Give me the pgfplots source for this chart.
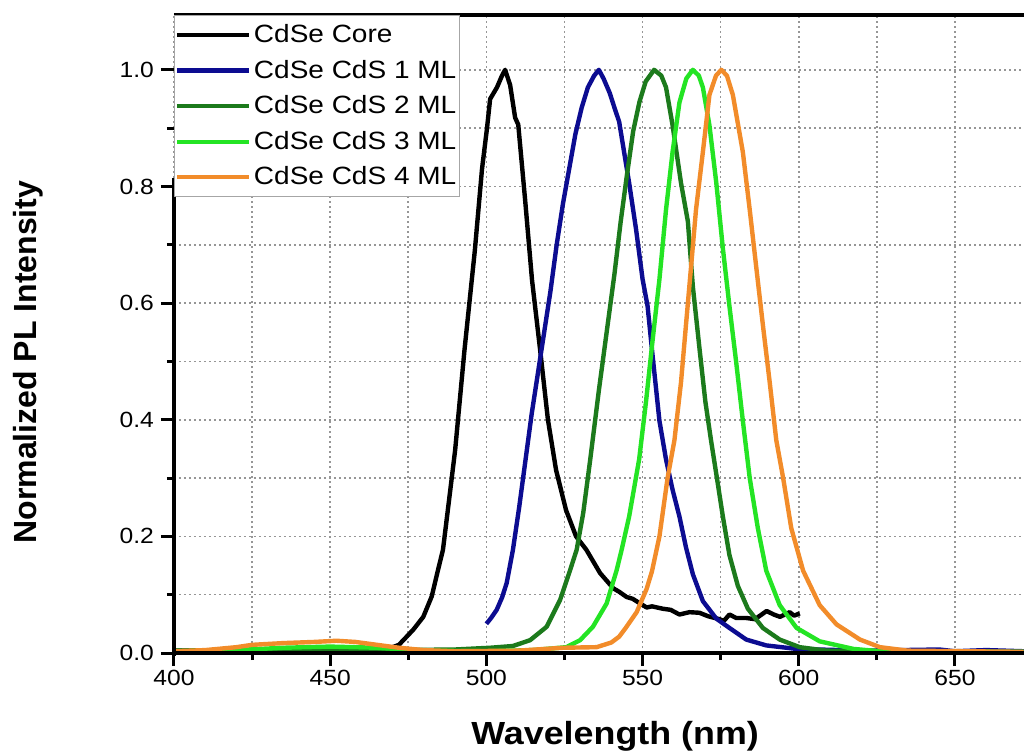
\documentclass[border=0pt]{standalone}
\usepackage{pgfplots}
\pgfplotsset{compat=1.18}
\usetikzlibrary{calc}
\usepackage{fontspec}
\setmainfont{Liberation Sans}[FakeStretch=1.12]
\newfontfamily\ylabfont{Liberation Sans}
\definecolor{cnavy}{RGB}{12,12,145}
\definecolor{cdgreen}{RGB}{28,122,28}
\definecolor{clgreen}{RGB}{36,228,36}
\definecolor{corange}{RGB}{242,140,42}
\definecolor{cgrid}{RGB}{150,150,150}
\begin{document}
\begin{tikzpicture}
\begin{axis}[
  scale only axis, width=425pt, height=319pt,
  xmin=400, xmax=672.1, ymin=0, ymax=1.094,
  clip=false,
  axis line style={draw=none},
  xtick={400,450,...,650}, ytick={0,0.2,0.4,0.6,0.8,1.0},
  minor xtick={425,475,...,675}, minor ytick={0.1,0.3,...,0.9},
  xtick pos=left, ytick pos=left,
  tick align=outside,
  major tick length=6.5pt, minor tick length=3.5pt,
  tick style={black, line width=1.5pt},
  xmajorgrids, xminorgrids, ymajorgrids, yminorgrids,
  major grid style={cgrid, line width=0.8pt, dash pattern=on 1pt off 1.5pt},
  minor grid style={cgrid, line width=0.8pt, dash pattern=on 1pt off 1.5pt},
  /pgf/number format/assume math mode=true,
  ticklabel style={font=\fontsize{11}{13}\selectfont},
  yticklabel style={/pgf/number format/fixed, /pgf/number format/fixed zerofill, /pgf/number format/precision=1},
  xticklabel style={/pgf/number format/1000 sep={}, yshift=1.5pt},
  xlabel={\bfseries Wavelength (nm)},
  ylabel={\ylabfont\bfseries Normalized PL Intensity},
  xlabel style={font=\fontsize{16}{18}\selectfont, at={(axis description cs:0.519,-0.13)}, anchor=center},
  ylabel style={font=\fontsize{16}{18}\selectfont, at={(axis description cs:-0.172,0.456)}, anchor=center, rotate=0},
  legend style={at={(0,1)}, anchor=north west, draw=gray!70, line width=0.6pt, fill=white,
    font=\fontsize{12.5}{14}\selectfont, inner xsep=0pt, inner ysep=2pt,
    nodes={inner xsep=1.5pt, inner ysep=2.5pt}, row sep=2.2pt,
    /tikz/every even column/.append style={column sep=3.5pt}},
  legend cell align=left,
  legend image code/.code={\draw[#1, line width=2.2pt] (0pt,0pt) -- (36pt,0pt);},
  every axis plot/.append style={line width=2.2pt, line join=round},
]
\addplot[black] coordinates {
(400,0.004) (420,0.004) (440,0.003) (460,0.003) (468,0.006) (472,0.014) (476.6,0.04) (479.8,0.062) (482.5,0.097) (484.5,0.142) (486.1,0.177) (488,0.26) (490,0.348) (493,0.52) (496.3,0.69) (498.6,0.83) (500.2,0.90) (501.2,0.95) (503.4,0.97) (505,0.99) (506,1.0) (507.6,0.974) (509.2,0.918) (510.2,0.906) (512.4,0.777) (514.6,0.64) (517.2,0.52) (519.7,0.40) (522.3,0.314) (525.5,0.245) (528.7,0.20) (532,0.177) (536.4,0.137) (540.6,0.111) (542.5,0.105) (544.9,0.096) (546.8,0.093) (549.2,0.085) (551.3,0.078) (553,0.080) (556.4,0.076) (559,0.074) (561.8,0.066) (565,0.070) (568.2,0.069) (571,0.063) (574.6,0.058) (576,0.055) (577.8,0.066) (580,0.060) (583.2,0.060) (586,0.058) (589.7,0.072) (592,0.066) (594,0.062) (597.1,0.070) (598.5,0.064) (600.3,0.068)
};
\addlegendentry{CdSe Core}
\addplot[cnavy] coordinates {
(500,0.05) (501.5,0.06) (503.3,0.074) (505,0.095) (506.5,0.12) (508.5,0.177) (510.5,0.25) (512.5,0.33) (514.5,0.41) (516.5,0.48) (518.5,0.55) (520.5,0.62) (522.5,0.70) (524.5,0.77) (526.5,0.83) (528.5,0.89) (530.5,0.935) (532.5,0.97) (534.5,0.99) (536,1.0) (537.5,0.985) (539.5,0.96) (541,0.935) (542.5,0.911) (545.7,0.806) (547.9,0.727) (550,0.641) (551.6,0.595) (553.2,0.51) (555.4,0.398) (557.5,0.332) (559.6,0.28) (561.8,0.234) (563.9,0.181) (566.1,0.135) (569.3,0.089) (573.6,0.059) (577.8,0.043) (583.2,0.023) (589.6,0.013) (599.3,0.007) (620,0.004) (645,0.006) (650,0.003) (660,0.005) (672,0.003)
};
\addlegendentry{CdSe CdS 1 ML}
\addplot[cdgreen] coordinates {
(400,0.004) (430,0.006) (450,0.007) (470,0.005) (490,0.006) (501.2,0.009) (508.5,0.012) (514,0.022) (519.3,0.045) (523.6,0.091) (526.8,0.142) (528.9,0.177) (531,0.24) (533.2,0.33) (536,0.45) (539,0.57) (541,0.65) (543,0.74) (545,0.82) (547,0.895) (549,0.945) (551,0.98) (553.7,1.0) (556,0.99) (557.5,0.97) (559.6,0.905) (562.3,0.806) (564.5,0.74) (566.1,0.628) (568.2,0.523) (570.1,0.431) (571.9,0.365) (573.8,0.30) (575.7,0.234) (577.8,0.168) (580.5,0.115) (583.7,0.076) (588.5,0.043) (593.9,0.023) (600.3,0.01) (608.9,0.004) (630,0.003) (672,0.002)
};
\addlegendentry{CdSe CdS 2 ML}
\addplot[clgreen] coordinates {
(400,0.003) (420,0.005) (435,0.009) (450,0.011) (465,0.009) (480,0.004) (500,0.003) (515,0.005) (525.6,0.01) (530,0.022) (534.1,0.045) (538.5,0.085) (541.7,0.142) (543.3,0.177) (545.7,0.234) (548.9,0.332) (551.1,0.431) (553.2,0.536) (555.4,0.641) (557.5,0.76) (559.6,0.859) (561.8,0.944) (564,0.985) (566.1,1.0) (568,0.99) (569.3,0.97) (571.4,0.905) (573.6,0.806) (575.7,0.694) (577.8,0.595) (580,0.497) (582.1,0.398) (584.3,0.30) (586.9,0.214) (589.6,0.141) (593.9,0.082) (599.3,0.043) (606.7,0.02) (617.5,0.007) (626,0.003) (672,0.002)
};
\addlegendentry{CdSe CdS 3 ML}
\addplot[corange] coordinates {
(400,0.003) (410,0.005) (420,0.010) (425,0.014) (435,0.017) (445,0.019) (452,0.021) (458,0.019) (465,0.014) (472,0.009) (480,0.005) (490,0.003) (510,0.004) (524.6,0.009) (535.3,0.01) (540,0.018) (542.5,0.028) (544.6,0.043) (548.1,0.07) (551.3,0.11) (553,0.14) (555.4,0.20) (558,0.30) (560.2,0.365) (562.3,0.464) (563.9,0.563) (565.5,0.661) (567.1,0.76) (569.3,0.859) (571.4,0.957) (573.5,0.99) (575.2,1.0) (577,0.99) (578.9,0.957) (582.1,0.859) (584.3,0.76) (586.4,0.661) (588.5,0.563) (590.7,0.464) (592.8,0.365) (595,0.30) (597.6,0.214) (601.4,0.141) (606.7,0.082) (612.1,0.049) (619.6,0.023) (626,0.01) (635,0.004) (672,0.002)
};
\addlegendentry{CdSe CdS 4 ML}
\draw[black, line width=2.4pt] (rel axis cs:0,1) -- (rel axis cs:1.01,1);
\draw[black, line width=2.4pt] (rel axis cs:0,0) -- (rel axis cs:1.01,0);
\draw[black, line width=2.4pt] (rel axis cs:0,-0.004) -- (rel axis cs:0,0.745);
\end{axis}
\pgfresetboundingbox
\path ($(current axis.south west)+(-87pt,-49pt)$) rectangle ($(current axis.north east)+(0pt,7.5pt)$);
\end{tikzpicture}
\end{document}
